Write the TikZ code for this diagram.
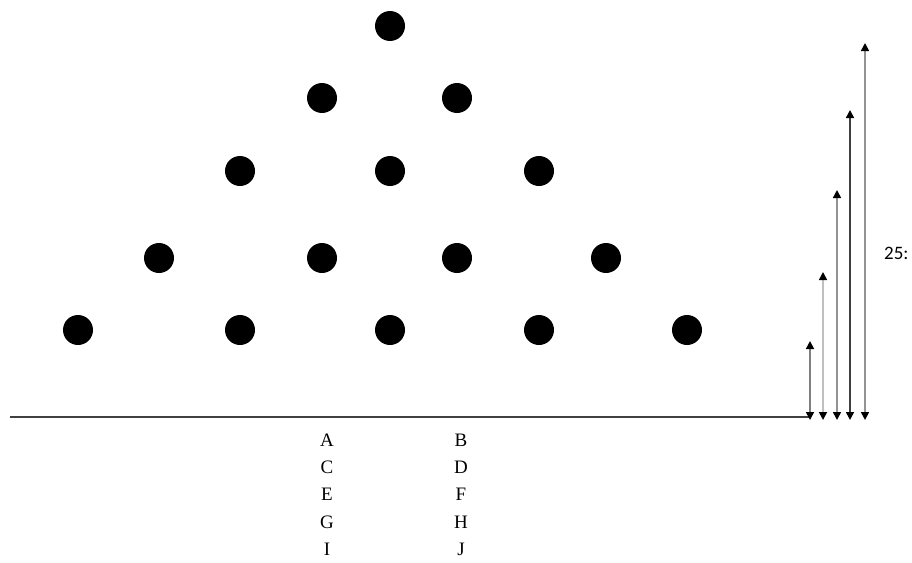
\documentclass[tikz,border=0pt]{standalone}
\usepackage{fontspec}
\setmainfont{Liberation Serif}
\newfontfamily\labelfont{Carlito}
\usetikzlibrary{
  arrows.meta, % For arrow tips
  positioning
}

\begin{document}
\begin{tikzpicture}[
      x=1pt, y=-1pt, % one unit per pixel, y downwards
      dot/.style={circle, fill=black, inner sep=0pt, minimum size=30pt}, % Style for the balls
      level/.style={line width=1.6pt, {Triangle[black,width=8pt,length=8pt]}-{Triangle[black,width=8pt,length=8pt]}}, % Style for height arrows
      letter/.style={font=\fontsize{19}{22}\selectfont, inner sep=0pt},
    ]
    \useasboundingbox (0,0) rectangle (912,562);
    \clip (0,0) rectangle (912,562);

    % Kugeln, Reihe fuer Reihe
    \foreach \name/\x/\y in {r1a/390/26,
        r2a/322/98, r2b/457/98,
        r3a/240/171, r3b/390/171, r3c/539/171,
        r4a/159/258, r4b/322/258, r4c/457/258, r4d/606/258,
        r5a/78/330, r5b/240/330, r5c/390/330, r5d/539/330, r5e/687/330}
    \node[dot] (\name) at (\x,\y) {};

    % Boden
    \coordinate (G0) at (10,417);
    \coordinate (G1) at (810,417);
    \draw[line width=1.6pt, black!75] (G0) -- (G1);

    % Hoehenpfeile
    \foreach \i/\x/\top/\col in {1/810/341/gray, 2/823/272/lightgray,
        3/837/190/gray!85, 4/850/110/black!75, 5/865/43/gray!85} {
      \coordinate (lo\i) at (\x,420);
      \coordinate (hi\i) at (\x,\top);
      \draw[level, draw=\col] (lo\i) -- (hi\i);
    }

    \node[font=\labelfont\fontsize{19}{22}\selectfont, anchor=west, inner sep=0pt] (hval) at (884,253) {25:};

    % Buchstaben
    \foreach \name/\x/\y in {A/327/440, C/327/467, E/327/494, G/327/522, I/327/549,
        B/461/440, D/461/467, F/461/494, H/461/522, J/461/549}
    \node[letter] (\name) at (\x,\y) {\name};
  \end{tikzpicture}
\end{document}
